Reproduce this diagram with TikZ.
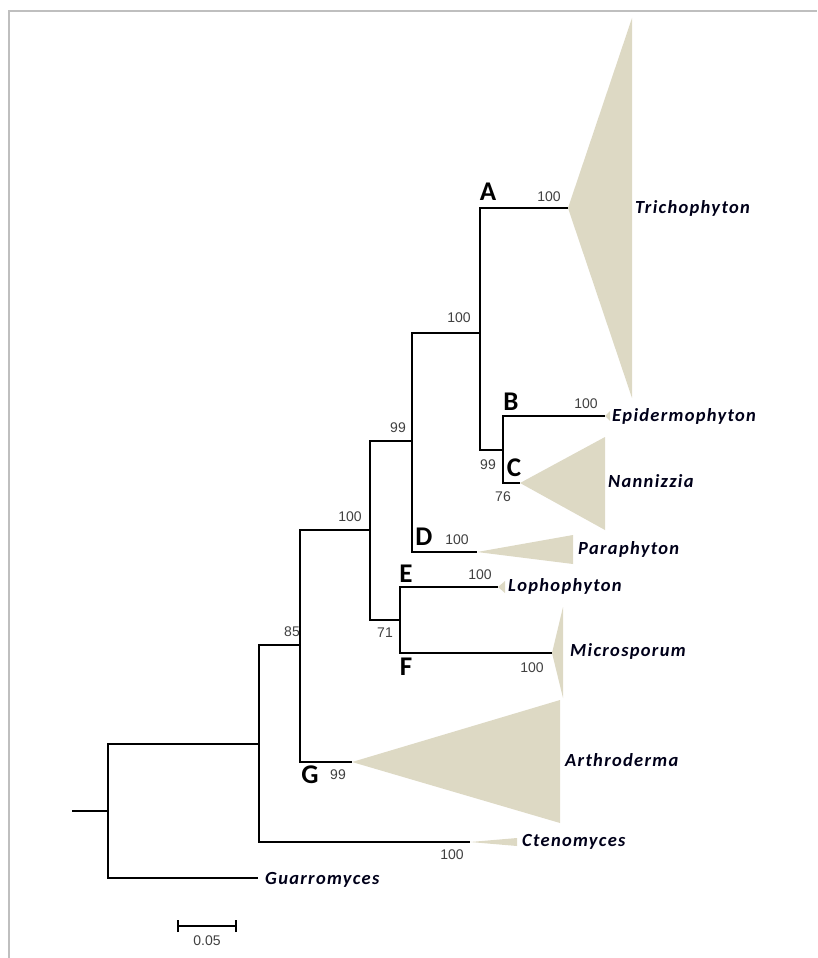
\documentclass[tikz,border=0pt]{standalone}
\usepackage{fontspec}
\setmainfont{Carlito}
\newfontfamily\numfont{Liberation Sans}
\newfontfamily\taxfont[LetterSpace=7]{Carlito}
\begin{document}
\begin{tikzpicture}[x=1pt,y=-1pt,
  branch/.style={line width=1.4pt,black},
  tri/.style={fill=tancol,draw=none},
  taxon/.style={anchor=west,font=\taxfont\fontsize{18.5}{21}\selectfont\bfseries\itshape,text=black!90!blue,inner sep=0pt},
  boot/.style={font=\numfont\fontsize{14}{16}\selectfont,text=black!75,inner sep=0pt},
  clade/.style={font=\fontsize{27}{30}\selectfont\bfseries,text=black,inner sep=0pt},
  frame/.style={draw=black!25,line width=2pt}]
\definecolor{tancol}{HTML}{DDD9C4}
\useasboundingbox (0,0) rectangle (817,958);
\draw[frame] (9,958) -- (9,11) -- (817,11);
% coordinates
\coordinate (s0) at (72,811);
\coordinate (n0) at (108,811);
\coordinate (guar) at (258,878);
\coordinate (n85) at (259,744);
\coordinate (cten) at (470,842);
\coordinate (n100a) at (300,645);
\coordinate (gtip) at (352,762);
\coordinate (n99) at (370,530);
\coordinate (n100b) at (412,441);
\coordinate (nEF) at (400,620);
\coordinate (nA) at (480,333);
\coordinate (dtip) at (477,552);
\coordinate (atip) at (568,208);
\coordinate (nB) at (503,450);
\coordinate (epi) at (605,416);
\coordinate (ctip) at (520,483);
\coordinate (loph) at (498,587);
\coordinate (micro) at (552,653);
% collapsed clades
\fill[tri] (atip) -- (632,18) -- (632,398) -- cycle;
\fill[tri] (ctip) -- (605,437) -- (605,530) -- cycle;
\fill[tri] (dtip) -- (573,535) -- (573,564) -- cycle;
\fill[tri] (micro) -- (563,607) -- (563,698) -- cycle;
\fill[tri] (gtip) -- (560,700) -- (560,823) -- cycle;
\fill[tri] (cten) -- (517,838) -- (517,846) -- cycle;
\fill[tri] (epi) -- (610,411) -- (610,421) -- cycle;
\fill[tri] (loph) -- (505,581) -- (505,593) -- cycle;
% branches
\draw[branch] (s0) -- (n0);
\draw[branch] (n0) |- (guar);
\draw[branch] (n0) |- (n85);
\draw[branch] (n85) |- (cten);
\draw[branch] (n85) |- (n100a);
\draw[branch] (n100a) |- (gtip);
\draw[branch] (n100a) |- (n99);
\draw[branch] (n99) |- (n100b);
\draw[branch] (n99) |- (nEF);
\draw[branch] (n100b) |- (nA);
\draw[branch] (n100b) |- (dtip);
\draw[branch] (nA) |- (atip);
\draw[branch] (nA) |- (nB);
\draw[branch] (nB) |- (epi);
\draw[branch] (nB) |- (ctip);
\draw[branch] (nEF) |- (loph);
\draw[branch] (nEF) |- (micro);
% taxon labels
\node[taxon] (tTri) at (635,208) {Trichophyton};
\node[taxon] (tEpi) at (612,416) {Epidermophyton};
\node[taxon] (tNan) at (608,481) {Nannizzia};
\node[taxon] (tPar) at (578,549) {Paraphyton};
\node[taxon] (tLop) at (508,586) {Lophophyton};
\node[taxon] (tMic) at (570,651) {Microsporum};
\node[taxon] (tArt) at (565,760) {Arthroderma};
\node[taxon] (tCte) at (522,842) {Ctenomyces};
\node[taxon] (tGua) at (265,880) {Guarromyces};
% clade letters
\node[clade] (lA) at (488,192) {A};
\node[clade] (lB) at (511,402) {B};
\node[clade] (lC) at (514,468) {C};
\node[clade] (lD) at (424,537) {D};
\node[clade] (lE) at (406,574) {E};
\node[clade] (lF) at (406,667) {F};
\node[clade] (lG) at (310,775) {G};
% bootstrap values
\node[boot] (bA) at (549,197) {100};
\node[boot] (b100b) at (459,318) {100};
\node[boot] (b99a) at (398,428) {99};
\node[boot] (b100a) at (350,517) {100};
\node[boot] (b85) at (292,632) {85};
\node[boot] (bB) at (586,404) {100};
\node[boot] (b99b) at (488,465) {99};
\node[boot] (bC) at (503,497) {76};
\node[boot] (bD) at (457,540) {100};
\node[boot] (bE) at (480,575) {100};
\node[boot] (b71) at (385,633) {71};
\node[boot] (bF) at (532,668) {100};
\node[boot] (bG) at (338,775) {99};
\node[boot] (bCte) at (452,855) {100};
% scale bar
\coordinate (sb1) at (178,926);
\coordinate (sb2) at (236,926);
\draw[branch,line width=1.2pt] (sb1) -- (sb2);
\draw[branch,line width=1.2pt] ([yshift=-6pt]sb1) -- ([yshift=6pt]sb1);
\draw[branch,line width=1.2pt] ([yshift=-6pt]sb2) -- ([yshift=6pt]sb2);
\node[boot] (sbl) at (207,941) {0.05};
\end{tikzpicture}
\end{document}
